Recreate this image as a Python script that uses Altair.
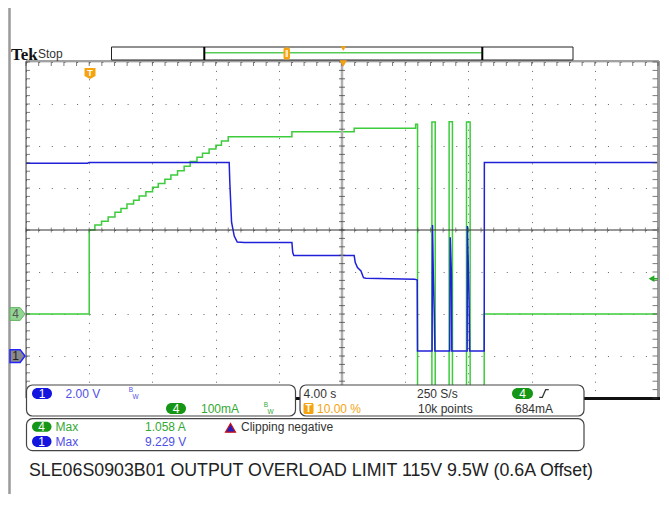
import altair as alt
import pandas as pd

# ---------------- data read from the screen ----------------
# channel 4 (current, mA, 0.6 A offset) : step changes (time s, mA)
ch4_t = [-4.0, 0.0, 0.36, 0.78, 1.20, 1.63, 2.01, 2.39, 2.81, 3.16, 3.59, 4.01, 4.37,
         4.79, 5.17, 5.59, 6.01, 6.39, 6.82, 7.17, 7.59, 8.02, 8.37, 8.80,
         12.83, 16.77, 20.66, 20.78, 21.69, 21.90, 22.78, 22.99, 23.88, 24.11, 25.00, 36.0]
ch4_ma = [600, 800, 812, 821, 831, 842, 851, 862, 871, 881, 891, 902, 911,
          921, 931, 941, 952, 963, 973, 983, 993, 1002, 1012, 1022,
          1034, 1042, 1052, 350, 1057, 350, 1058, 350, 1057, 350, 600, 600]

# channel 1 (voltage, V)
ch1_t = [-4.0, -0.1, 0.0, 8.86, 8.90, 9.01, 9.18, 9.37, 9.81, 12.83, 12.88, 12.95,
         16.77, 16.84, 16.98, 17.20, 17.36, 17.51, 20.60, 20.76, 20.78, 21.70, 21.73,
         21.78, 21.84, 21.88, 22.82, 22.85, 22.93, 22.95, 23.92, 23.94, 24.04, 24.08,
         25.00, 25.01, 36.0]
ch1_v = [9.18, 9.18, 9.22, 9.22, 8.27, 6.37, 5.71, 5.43, 5.41, 5.41, 4.94, 4.78,
         4.78, 4.45, 4.21, 4.05, 3.73, 3.70, 3.66, 3.62, 0.24, 0.24, 6.24,
         3.84, 2.00, 0.24, 0.24, 5.65, 3.81, 0.24, 0.24, 6.19, 2.70, 0.24,
         0.24, 9.22, 9.22]

CH1_V_PER_DIV = 2.0
CH1_POS = -3
CH4_MA_PER_DIV = 100
CH4_POS = -2
CH4_OFFSET = 600
TRIG_MA = 684

x_major = [-4, 0, 4, 8, 12, 16, 20, 24, 28, 32, 36]
y_major = [-4, -3, -2, -1, 0, 1, 2, 3, 4]
x_minor = [-4 + 0.8 * i for i in range(51)]
y_minor = [-4 + 0.2 * i for i in range(41)]

df4 = pd.DataFrame({"t": ch4_t, "ma": ch4_ma})
df4["div"] = (df4["ma"] - CH4_OFFSET) / CH4_MA_PER_DIV + CH4_POS
df4["i"] = range(len(df4))
df1 = pd.DataFrame({"t": ch1_t, "v": ch1_v})
df1["div"] = df1["v"] / CH1_V_PER_DIV + CH1_POS
df1["i"] = range(len(df1))
tx = pd.DataFrame({"t": x_minor})
ty = pd.DataFrame({"div": y_minor})
one = pd.DataFrame({"k": [0]})

NARROW = "Liberation Sans, Arial, sans-serif"
SANS = "Liberation Sans, Arial, sans-serif"
BOX_FS = 12
DARK = "#333333"
BLUE_T = "#4f4fe6"
GREEN_T = "#33a833"
ORANGE = "#f5a30f"

xscale = alt.Scale(domain=[-4, 36], nice=False, zero=False)
yscale = alt.Scale(domain=[-4, 4], nice=False, zero=False)
xaxis = alt.Axis(values=x_major, grid=True, gridDash=[1, 7.4], gridColor="#666", gridWidth=1,
                 gridOpacity=1, labels=False, ticks=False, domain=False, title=None)
yaxis = alt.Axis(values=y_major, grid=True, gridDash=[1, 11.64], gridColor="#666", gridWidth=1,
                 gridOpacity=1, labels=False, ticks=False, domain=False, title=None)


def X(f):
    return alt.X(f, type="quantitative", scale=xscale, axis=xaxis)


def Y(f):
    return alt.Y(f, type="quantitative", scale=yscale, axis=yaxis)


def T(x, y, s, color=DARK, size=BOX_FS, font=NARROW, weight="normal", align="left", baseline="middle"):
    return alt.Chart(one).mark_text(text=s, color=color, fontSize=size, font=font, fontWeight=weight,
                                    align=align, baseline=baseline).encode(x=alt.value(x), y=alt.value(y))


def R(x, x2, y, y2, **kw):
    return alt.Chart(one).mark_rect(**kw).encode(x=alt.value(x), x2=alt.value(x2), y=alt.value(y), y2=alt.value(y2))


def HL(x, x2, y, color, w):
    return alt.Chart(one).mark_rule(color=color, strokeWidth=w).encode(x=alt.value(x), x2=alt.value(x2), y=alt.value(y))


def VL(x, y, y2, color, w):
    return alt.Chart(one).mark_rule(color=color, strokeWidth=w).encode(x=alt.value(x), y=alt.value(y), y2=alt.value(y2))


def P(x, y, shape, size, **kw):
    return alt.Chart(one).mark_point(shape=shape, size=size, opacity=1, **kw).encode(x=alt.value(x), y=alt.value(y))


PENT_DOWN = "M-1,-1 L1,-1 L1,0.45 L0,1 L-1,0.45 Z"
PENT_RIGHT = "M-1,-0.85 L0.35,-0.85 L1,0 L0.35,0.85 L-1,0.85 Z"
EDGE = "M-1,0.8 L-0.35,0.8 L0.35,-0.8 L1,-0.8"

layers = []

# traces
layers.append(alt.Chart(df4).mark_line(interpolate="step-after", color="#3ccc3c", strokeWidth=1.5, clip=True)
              .encode(x=X("t"), y=Y("div"), order="i:Q"))
layers.append(alt.Chart(df1).mark_line(color="#2020d8", strokeWidth=1.5, clip=True)
              .encode(x=X("t"), y=Y("div"), order="i:Q"))

# graticule centre lines and borders
layers.append(VL(316, 0, 336, "#b0b0b0", 2.5))
layers.append(HL(0, 632, 168, "#333", 1))
layers.append(HL(0, 633, -1, "#444", 1))
layers.append(VL(0, -1, 336, "#444", 1))
layers.append(VL(632.5, -1, 337, "#9a9a9a", 3))
layers.append(HL(0, 634, 336.5, "#111", 3))

# minor ticks
layers.append(alt.Chart(tx).mark_tick(orient="vertical", size=4, thickness=1, color="#444", yOffset=2)
              .encode(x=X("t"), y=alt.value(0)))
layers.append(alt.Chart(tx).mark_tick(orient="vertical", size=5, thickness=1, color="#555")
              .encode(x=X("t"), y=alt.value(168)))
layers.append(alt.Chart(ty).mark_tick(orient="horizontal", size=4, thickness=1, color="#444", xOffset=2)
              .encode(y=Y("div"), x=alt.value(0)))
layers.append(alt.Chart(ty).mark_tick(orient="horizontal", size=5, thickness=1, color="#444", xOffset=-3)
              .encode(y=Y("div"), x=alt.value(632)))
layers.append(alt.Chart(ty).mark_tick(orient="horizontal", size=6, thickness=1, color="#333")
              .encode(y=Y("div"), x=alt.value(316)))

# left frame line
layers.append(VL(-16.5, -54, 432, "#9a9a9a", 2.5))

# top bar
layers.append(T(-15, -2, "Tek", color="#111", size=17, font="Liberation Serif, serif", weight="bold", baseline="alphabetic"))
layers.append(T(12, -4.5, "Stop", color=DARK, size=12, font=SANS, baseline="alphabetic"))
layers.append(R(85.5, 547, -15, -2, fill="white", stroke="#222", strokeWidth=1))
layers.append(HL(179, 455.5, -9.3, "#55cc55", 1.5))
layers.append(VL(178.3, -15, -2, "#000", 2))
layers.append(VL(456.3, -15, -2, "#000", 2))
layers.append(R(257.5, 264, -14.5, -2.5, fill=ORANGE, cornerRadius=2))
layers.append(R(259.5, 262, -12, -5, fill="#fde4b8"))
layers.append(P(317.3, -13.5, "triangle-down", 30, filled=True, color=ORANGE))
layers.append(P(317.3, 1.5, "triangle-down", 55, filled=True, color=ORANGE))

# trigger position marker
layers.append(P(64, 11.5, PENT_DOWN, 121, filled=True, color=ORANGE))
layers.append(T(64, 10.5, "T", color="white", size=9, font=SANS, weight="bold", align="center"))

# channel ground markers
layers.append(alt.Chart(one).mark_point(shape=PENT_RIGHT, size=225, filled=True, fill="#93d493", stroke="#5fb45f",
                                        strokeWidth=1, opacity=1)
              .encode(x=alt.value(-8.5), y=alt.Y(datum=CH4_POS, scale=yscale)))
layers.append(alt.Chart(one).mark_text(text="4", color="#555", fontSize=12, font=SANS, align="center", baseline="middle")
              .encode(x=alt.value(-10.5), y=alt.Y(datum=CH4_POS, scale=yscale)))
layers.append(alt.Chart(one).mark_point(shape=PENT_RIGHT, size=225, filled=True, fill="#8a8a8a", stroke="#2424ff",
                                        strokeWidth=1.5, opacity=1)
              .encode(x=alt.value(-8.5), y=alt.Y(datum=CH1_POS, scale=yscale)))
layers.append(alt.Chart(one).mark_text(text="1", color="#222", fontSize=12, font=SANS, align="center", baseline="middle")
              .encode(x=alt.value(-10.5), y=alt.Y(datum=CH1_POS, scale=yscale)))

# trigger level arrow (right)
trig_div = (TRIG_MA - CH4_OFFSET) / CH4_MA_PER_DIV + CH4_POS
layers.append(alt.Chart(one).mark_point(shape="triangle-left", size=45, filled=True, color="#22aa22", opacity=1)
              .encode(x=alt.value(625.5), y=alt.Y(datum=trig_div, scale=yscale)))
layers.append(alt.Chart(one).mark_rule(color="#22aa22", strokeWidth=1.5)
              .encode(x=alt.value(627), x2=alt.value(632), y=alt.Y(datum=trig_div, scale=yscale)))

# info boxes
layers.append(R(0.5, 269.5, 323, 354, fill="white", stroke="#444", strokeWidth=1.2, cornerRadius=6))
layers.append(R(274, 558, 323, 354, fill="white", stroke="#444", strokeWidth=1.2, cornerRadius=6))
layers.append(R(0.5, 558, 356.7, 388.7, fill="white", stroke="#444", strokeWidth=1.2, cornerRadius=6))

# box 1
layers.append(R(6, 26, 326, 337, fill="#1515e0", cornerRadius=5.5))
layers.append(T(16, 331.8, "1", color="white", size=12, align="center"))
layers.append(T(39.5, 331.5, "2.00 V", color=BLUE_T))
layers.append(T(105, 328.3, "B", color=BLUE_T, size=6.5, font=SANS, align="center"))
layers.append(T(109.5, 334.8, "W", color=BLUE_T, size=6.5, font=SANS, align="center"))
layers.append(R(140, 160, 341, 352, fill="#169616", cornerRadius=5.5))
layers.append(T(150, 346.8, "4", color="white", size=12, align="center"))
layers.append(T(175, 346.5, "100mA", color=GREEN_T))
layers.append(T(240, 343.3, "B", color=GREEN_T, size=6.5, font=SANS, align="center"))
layers.append(T(244.5, 349.8, "W", color=GREEN_T, size=6.5, font=SANS, align="center"))

# box 2
layers.append(T(277.5, 331.5, "4.00 s", color=DARK))
layers.append(T(391, 331.5, "250 S/s", color=DARK))
layers.append(R(486, 507, 326, 337, fill="#169616", cornerRadius=5.5))
layers.append(T(496.5, 331.8, "4", color="white", size=12, align="center"))
layers.append(P(518, 331.5, EDGE, 90, filled=False, color="#333", strokeWidth=1.2))
layers.append(R(277.5, 287.5, 341, 352, fill=ORANGE, cornerRadius=1.5))
layers.append(T(282.5, 346.8, "T", color="white", size=10, font=SANS, weight="bold", align="center"))
layers.append(T(291, 346.5, "10.00 %", color=ORANGE))
layers.append(T(392, 346.5, "10k points", color=DARK))
layers.append(T(489, 346.5, "684mA", color=DARK))

# box 3
layers.append(R(6, 25.5, 359.7, 369.7, fill="#169616", cornerRadius=5))
layers.append(T(15.7, 365, "4", color="white", size=12, align="center"))
layers.append(T(29.5, 364.7, "Max", color=GREEN_T))
layers.append(T(119, 364.7, "1.058 A", color=GREEN_T))
layers.append(P(204.5, 365.8, "triangle-up", 100, filled=True, fill="#2020c0", stroke="#cc1010", strokeWidth=1.2))
layers.append(T(215, 364.7, "Clipping negative", color=DARK))
layers.append(R(6, 25.5, 374, 385, fill="#1515e0", cornerRadius=5.5))
layers.append(T(15.7, 379.8, "1", color="white", size=12, align="center"))
layers.append(T(29.5, 379.5, "Max", color=BLUE_T))
layers.append(T(119, 379.5, "9.229 V", color=BLUE_T))

# caption
layers.append(T(3, 408.5, "SLE06S0903B01 OUTPUT OVERLOAD LIMIT 115V 9.5W (0.6A Offset)", color="#222", size=17.8, font=SANS))

chart = alt.layer(*layers).properties(
    width=632, height=336,
    padding={"left": 18, "top": 54, "right": 2, "bottom": 96},
    autosize=alt.AutoSizeParams(type="none"),
).configure_view(strokeWidth=0).configure(background="white")

chart.save("out.html", embed_options={"renderer": "svg", "actions": False})
